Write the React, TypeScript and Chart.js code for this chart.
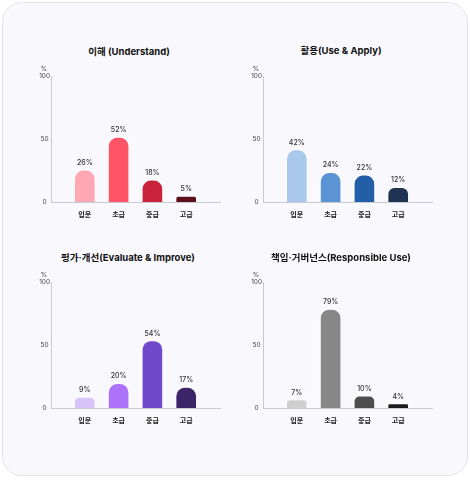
import React, { useEffect, useRef } from "react";
import { Chart, registerables } from "chart.js";

Chart.register(...registerables);

const levels = ["입문", "초급", "중급", "고급"];
const yTicks = [0, 50, 100];
const unitLabel = "%";

const understandTitle = "이해 (Understand)";
const understandValues = [26, 52, 18, 5];
const understandColors = ["#ffa8b3", "#ff5468", "#c8233b", "#5c0e1c"];

const applyTitle = "활용(Use & Apply)";
const applyValues = [42, 24, 22, 12];
const applyColors = ["#a9c8ec", "#5b93d5", "#245ea6", "#1f3452"];

const improveTitle = "평가·개선(Evaluate & Improve)";
const improveValues = [9, 20, 54, 17];
const improveColors = ["#d7c3f7", "#ac72fa", "#7048cc", "#3b2568"];

const responsibleTitle = "책임·거버넌스(Responsible Use)";
const responsibleValues = [7, 79, 10, 4];
const responsibleColors = ["#cfcfcf", "#878787", "#4d4d4d", "#1c1c1c"];

const FONT = "Inter, 'Noto Sans CJK KR', 'Noto Sans', sans-serif";

const valueLabelPlugin = {
  id: "valueLabels",
  afterDatasetsDraw(chart: any) {
    const { ctx, chartArea } = chart;
    const meta = chart.getDatasetMeta(0);
    const data = chart.data.datasets[0].data;
    ctx.save();
    ctx.textAlign = "center";
    ctx.textBaseline = "middle";
    ctx.font = `500 7px ${FONT}`;
    ctx.fillStyle = "#333";
    meta.data.forEach((el: any, i: number) => {
      const v = data[i];
      if (v == null) return;
      ctx.fillText(`${v}${unitLabel}`, el.x, el.y - 6.5);
    });
    ctx.font = `6.5px ${FONT}`;
    ctx.fillStyle = "#444";
    ctx.fillText(unitLabel, chartArea.left - 7, chartArea.top - 7);
    ctx.restore();
  },
};

type PanelProps = {
  title: string;
  values: number[];
  colors: string[];
  area: { L: number; R: number; T: number; B: number };
  titleCenter: { x: number; y: number };
};

function Panel({ title, values, colors, area, titleCenter }: PanelProps) {
  const ref = useRef<HTMLCanvasElement>(null);
  const w = area.R - area.L + 50;
  const h = area.B - area.T + 50;

  useEffect(() => {
    if (!ref.current) return;
    const labels = ["", ...levels, ""];
    const chart = new Chart(ref.current, {
      type: "bar",
      data: {
        labels,
        datasets: [
          {
            data: [null, ...values, null] as any,
            backgroundColor: ["transparent", ...colors, "transparent"],
            borderColor: "rgba(255,255,255,0.55)",
            borderWidth: 1.5,
            borderRadius: 10,
            borderSkipped: "bottom",
            barThickness: 22,
          },
        ],
      },
      options: {
        responsive: false,
        animation: false,
        layout: { padding: { left: 0, top: 20, right: 10, bottom: 0 } },
        plugins: { legend: { display: false }, tooltip: { enabled: false }, title: { display: false } },
        scales: {
          x: {
            type: "category",
            offset: false,
            grid: { display: false, drawTicks: false },
            border: { display: true, color: "#c9c9d1", width: 1 },
            ticks: {
              font: { size: 7, weight: "bold", family: FONT },
              color: "#222",
              padding: 9,
              autoSkip: false,
              maxRotation: 0,
            },
            afterFit: (s: any) => {
              s.height = 30;
            },
          },
          y: {
            min: 0,
            max: 100,
            afterBuildTicks: (s: any) => {
              s.ticks = yTicks.map((v) => ({ value: v }));
            },
            grid: { display: false, drawTicks: false },
            border: { display: true, color: "#c9c9d1", width: 1 },
            ticks: {
              font: { size: 6.5, family: FONT },
              color: "#444",
              padding: 1,
              crossAlign: "center",
            },
            afterFit: (s: any) => {
              s.width = 40;
            },
          },
        },
      },
      plugins: [valueLabelPlugin],
    } as any);
    return () => chart.destroy();
  }, []);

  return (
    <>
      <div
        style={{
          position: "absolute",
          left: titleCenter.x,
          top: titleCenter.y,
          transform: "translate(-50%, -50%)",
          whiteSpace: "nowrap",
          fontFamily: FONT,
          fontWeight: 700,
          fontSize: 9.5,
          color: "#111",
        }}
      >
        {title}
      </div>
      <canvas
        ref={ref}
        width={w}
        height={h}
        style={{ position: "absolute", left: area.L - 40, top: area.T - 20, width: w, height: h }}
      />
    </>
  );
}

export default function App() {
  return (
    <div style={{ position: "fixed", left: 0, top: 0, width: 470, height: 480, background: "#ffffff" }}>
      <div
        style={{
          position: "absolute",
          left: 2,
          top: 2,
          width: 466,
          height: 474,
          boxSizing: "border-box",
          border: "1px solid #e4e4ea",
          borderRadius: 20,
          background: "#f8f8fd",
        }}
      />
      <Panel
        title={understandTitle}
        values={understandValues}
        colors={understandColors}
        area={{ L: 51, R: 220, T: 76, B: 202 }}
        titleCenter={{ x: 129, y: 51 }}
      />
      <Panel
        title={applyTitle}
        values={applyValues}
        colors={applyColors}
        area={{ L: 263, R: 432, T: 76, B: 202 }}
        titleCenter={{ x: 341, y: 50 }}
      />
      <Panel
        title={improveTitle}
        values={improveValues}
        colors={improveColors}
        area={{ L: 51, R: 220, T: 282, B: 408 }}
        titleCenter={{ x: 128, y: 257 }}
      />
      <Panel
        title={responsibleTitle}
        values={responsibleValues}
        colors={responsibleColors}
        area={{ L: 263, R: 432, T: 282, B: 408 }}
        titleCenter={{ x: 341, y: 257 }}
      />
    </div>
  );
}
